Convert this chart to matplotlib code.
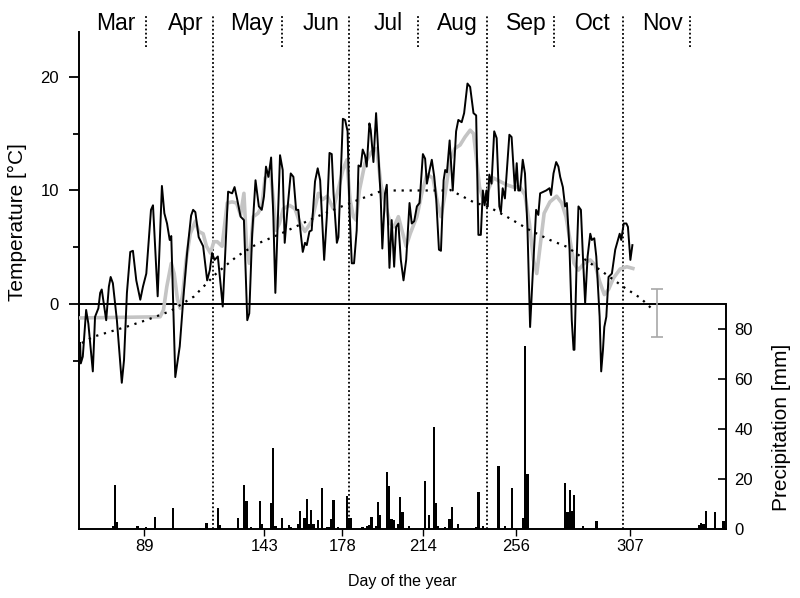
import numpy as np
import matplotlib.pyplot as plt

plt.rcParams['font.family'] = ['Liberation Sans', 'DejaVu Sans']

# months (day of year, 0 = 1 Jan)
month_names = ['Mar', 'Apr', 'May', 'Jun', 'Jul', 'Aug', 'Sep', 'Oct', 'Nov']
month_start = [59, 90, 120, 151, 181, 212, 243, 273, 304]
long_lines = [120, 181, 243, 304]
short_lines = [90, 151, 212, 273, 334]
day_ticks = [89, 143, 178, 214, 256, 307]

# daily air temperature
air_day = [60.3, 60.6, 61.5, 63.0, 64.0, 66.0, 67.0, 68.5, 69.3, 70.0, 72.0, 73.2, 74.0, 75.0,
           76.8, 79.0, 80.0, 81.3, 82.8, 84.0, 85.5, 87.3, 88.5, 90.0, 92.1, 93.0, 95.1, 97.0,
           98.1, 99.3, 100.5, 101.2, 103.0, 105.0, 106.8, 108.3, 110.1, 111.0, 112.0, 113.5,
           115.5, 117.3, 118.5, 119.5, 120.6, 122.1, 124.3, 126.7, 128.5, 129.6, 130.8, 132.3,
           133.8, 135.3, 136.2, 137.5, 139.0, 140.5, 141.8, 142.8, 143.7, 144.8, 146.0, 147.0,
           147.9, 150.0, 151.2, 152.1, 153.3, 154.8, 156.0, 157.2, 158.2, 159.3, 160.2, 161.2,
           162.0, 163.2, 164.2, 165.7, 166.9, 168.0, 169.8, 171.0, 172.2, 173.2, 174.0, 175.5,
           176.2, 178.2, 179.2, 180.3, 181.1, 182.2, 183.2, 184.4, 185.2, 186.2, 187.1, 188.1,
           188.9, 190.1, 190.7, 191.9, 193.1, 194.1, 195.2, 195.9, 197.1, 197.9, 199.1, 200.1,
           201.2, 202.1, 203.1, 204.2, 205.4, 206.6, 208.1, 209.1, 210.2, 211.4, 212.6, 214.1,
           215.1, 215.9, 217.1, 218.1, 219.2, 220.1, 221.3, 222.2, 223.4, 224.1, 224.9, 226.1,
           227.5, 229.0, 230.0, 231.5, 232.6, 234.1, 235.3, 236.8, 238.0, 239.0, 240.1, 241.0,
           241.8, 242.6, 243.2, 243.9, 244.9, 246.1, 247.2, 248.4, 249.1, 249.9, 250.9, 252.9,
           253.9, 255.4, 256.2, 256.9, 257.7, 258.9, 259.9, 261.0, 262.2, 263.4, 264.9, 265.9,
           266.7, 269.4, 270.9, 271.6, 272.7, 273.9, 274.9, 275.7, 276.9, 277.9, 278.7, 279.9,
           280.9, 281.7, 282.1, 283.2, 283.9, 285.0, 285.9, 286.9, 288.0, 289.2, 289.9, 291.0,
           291.9, 293.4, 294.1, 294.9, 295.5, 296.4, 297.4, 298.9, 300.4, 302.4, 303.1, 304.2,
           305.4, 306.1, 307.2, 308.1]
air_temp = [-3.4, -5.2, -4.6, -0.5, -1.7, -5.9, -1.1, -0.35, 1.0, 1.3, -1.4, 1.55, 2.4, 1.85,
            -1.4, -6.9, -4.9, 1.0, 4.6, 4.7, 2.1, 0.4, 1.55, 2.7, 8.3, 8.7, 0.7, 10.4,
            8.0, 7.1, 5.65, 6.0, -6.4, -3.7, 1.0, 4.5, 7.8, 8.3, 8.1, 5.9,
            5.1, 2.1, 3.0, 4.5, 3.9, 4.2, -0.2, 9.9, 9.75, 10.3, 9.2, 7.7,
            7.4, -1.4, -0.8, 6.2, 10.9, 8.6, 8.3, 9.5, 12.1, 11.2, 12.9, 7.7,
            1.0, 13.1, 11.8, 5.4, 8.3, 11.5, 11.2, 8.3, 8.3, 6.2, 4.6, 5.4,
            5.2, 6.4, 6.5, 10.8, 11.95, 10.9, 3.9, 7.7, 13.3, 13.2, 9.75, 5.4,
            5.9, 16.3, 16.2, 15.2, 8.6, 3.6, 3.6, 6.5, 12.2, 12.1, 13.6, 13.1,
            12.1, 15.9, 15.3, 12.5, 16.8, 13.3, 9.2, 4.9, 9.75, 10.5, 3.2, 7.4,
            3.3, 6.8, 7.1, 3.9, 2.1, 3.9, 8.9, 7.1, 7.3, 8.6, 8.9, 13.2,
            12.8, 10.6, 11.8, 12.7, 11.2, 9.2, 4.8, 4.7, 10.9, 11.8, 11.6, 14.4,
            10.0, 15.2, 16.2, 16.0, 16.8, 19.4, 19.1, 16.8, 16.6, 6.1, 6.1, 10.0,
            8.7, 10.0, 8.6, 11.4, 10.6, 15.2, 14.6, 8.6, 8.1, 10.2, 9.3, 14.9,
            14.7, 10.0, 12.4, 10.0, 10.0, 12.7, 11.5, 6.8, -2.0, 2.7, 8.3, 7.85,
            9.75, 10.0, 10.2, 9.6, 11.5, 12.5, 12.1, 11.2, 10.3, 8.6, 8.9, 4.8,
            -1.4, -4.0, -4.0, 4.6, 8.6, 8.3, 4.2, 0.1, 4.2, 6.2, 5.65, 5.8,
            4.2, -1.1, -5.9, -4.0, -2.0, -1.1, 2.4, 2.7, 4.8, 6.2, 5.65, 7.1,
            7.1, 6.8, 3.9, 5.2]

# second (smoother) temperature series, grey
soil_day = [60.3, 96.2, 97.7, 99.2, 101.2, 102.5, 104.0, 105.2, 106.4, 107.9, 109.7, 112.0,
            113.5, 115.5, 117.0, 118.8, 120.3, 121.8, 124.0, 126.3, 128.5, 130.5, 132.3, 133.8,
            135.0, 136.2, 138.0, 140.1, 141.8, 143.3, 145.8, 147.0, 148.2, 149.7, 151.5, 154.2,
            156.7, 159.0, 161.2, 164.2, 167.2, 169.1, 171.2, 173.9, 175.7, 178.2, 180.0, 181.4,
            182.9, 184.1, 185.6, 188.1, 191.1, 193.4, 195.2, 197.1, 199.4, 201.2, 203.1, 205.1,
            206.6, 208.4, 211.4, 213.6, 215.9, 218.6, 220.7, 222.2, 224.1, 226.3, 228.5, 230.8,
            233.0, 235.3, 236.8, 238.0, 239.5, 241.0, 242.7, 245.7, 248.7, 251.7, 254.7, 257.7,
            259.9, 261.9, 263.7, 265.2, 266.7, 268.5, 271.1, 274.1, 276.4, 278.3, 280.1, 281.9,
            283.9, 286.4, 289.2, 291.4, 293.4, 295.5, 297.4, 299.6, 302.6, 305.6, 308.3]
soil_temp = [-1.2, -1.1, -0.5, 1.55, 3.6, 2.7, 0.4, -0.35, 1.0, 3.9, 6.2, 7.3,
             6.4, 6.2, 5.1, 4.5, 5.5, 5.5, 5.1, 8.9, 9.0, 8.9, 7.85, 9.75,
             5.1, 3.6, 7.7, 8.0, 8.6, 11.1, 11.5, 9.2, 6.5, 7.1, 8.4, 8.7,
             8.4, 7.1, 6.4, 7.3, 9.75, 9.2, 9.5, 8.4, 9.75, 11.8, 12.7, 9.2,
             7.7, 7.4, 10.0, 12.4, 13.4, 13.7, 10.6, 8.9, 7.1, 6.8, 7.7, 6.2,
             5.1, 6.2, 7.7, 9.75, 11.4, 11.1, 8.9, 7.7, 9.75, 12.7, 13.7, 14.0,
             14.7, 15.3, 15.0, 13.0, 10.3, 9.3, 9.75, 11.1, 10.8, 10.5, 10.3, 10.3,
             9.6, 7.1, 3.9, 2.7, 5.1, 8.0, 9.0, 9.5, 8.9, 7.7, 5.65, 3.6,
             3.0, 3.6, 3.9, 3.45, 2.0, 0.85, 1.3, 2.3, 3.1, 3.3, 3.15]

# long-term mean temperature (dotted)
mean_day = [61.1, 66.3, 81.2, 90.2, 100.8, 111.3, 121.6, 130.6, 139.6, 151.4, 166.5, 181.4,
            193.4, 196.2, 223.1, 226.3, 236.6, 244.2, 251.7, 262.2, 271.1, 278.6, 293.7, 303.9,
            311.7, 317.4]
mean_temp = [-3.4, -2.85, -1.97, -1.38, -0.6, 0.67, 2.75, 4.2, 5.3, 6.3, 7.7, 8.9,
             9.8, 10.0, 10.0, 10.05, 9.0, 8.5, 7.7, 6.5, 5.65, 5.06, 3.0, 1.55,
             0.55, -0.5]

# error bar at the end of the season
err_day = 319
err_mean = -0.77
err_sd = 2.1

# daily precipitation
rain_day = [75, 76, 77, 86, 90, 94, 102, 114, 117, 122, 123, 131, 134, 135, 137, 141, 142,
            146, 147, 148, 151, 154, 155, 158, 159, 161, 162, 163, 164, 165, 167, 169, 171,
            172, 173, 174, 176, 180, 181, 182, 187, 189, 190, 191, 193, 194, 195, 198, 199,
            200, 201, 203, 204, 205, 208, 215, 217, 219, 220, 221, 224, 226, 227, 230, 238,
            239, 241, 248, 251, 254, 259, 260, 261, 278, 279, 280, 281, 282, 286, 292, 338,
            339, 340, 341, 345, 349]
rain_mm = [1.2, 17.6, 2.9, 1.2, 0.9, 4.9, 8.3, 0.5, 2.3, 8.3, 1.6, 4.3, 17.6, 11.3, 0.9, 11.3, 2.0,
           10.5, 32.5, 1.2, 4.3, 1.6, 0.9, 2.0, 7.3, 4.3, 11.9, 2.0, 7.7, 2.0, 3.6, 16.3, 0.6,
           0.9, 3.9, 11.6, 0.9, 13.2, 4.3, 4.3, 0.9, 1.2, 1.6, 4.7, 1.2, 10.9, 5.6, 22.9, 17.2,
           4.0, 3.6, 2.0, 12.7, 6.8, 1.0, 19.2, 5.6, 40.9, 10.5, 1.0, 0.8, 4.0, 8.9, 2.0, 0.8,
           14.9, 1.0, 25.2, 1.0, 16.3, 4.5, 73.2, 21.9, 18.3, 6.9, 15.6, 7.1, 13.6, 1.0, 3.3, 1.6,
           2.3, 2.0, 7.2, 6.8, 3.3]

fig = plt.figure(figsize=(8, 5.98), dpi=100)
ax = fig.add_axes([0.09875, 0.1154, 0.80875, 0.8311])
ax2 = ax.twinx()

t_lo, t_hi = -19.75, 23.93
p_hi = 198.8
ax.set_xlim(59.8, 350.1)
ax.set_ylim(t_lo, t_hi)
ax2.set_ylim(0, p_hi)

# month separators and names
trans = ax.get_xaxis_transform()
ax.vlines(long_lines, 0, 1.034, transform=trans, clip_on=False, colors='black',
          linestyles=(0, (1, 1.3)), lw=1.3, zorder=1)
ax.vlines(short_lines, 0.970, 1.034, transform=trans, clip_on=False, colors='black',
          linestyles=(0, (1, 1.3)), lw=1.3, zorder=1)
for name, start in zip(month_names, month_start):
    ax.text(start + 17.5, 1.017, name, transform=trans, ha='center', va='center', fontsize=16.5)

ax.axhline(0, color='black', lw=1.4, zorder=2)
ax.plot(soil_day, soil_temp, color='#c4c4c4', lw=2.6, zorder=3)
ax.plot(air_day, air_temp, color='black', lw=1.4, zorder=4)
ax.plot(mean_day, mean_temp, color='black', lw=1.6, linestyle=(0, (1, 2.6)), zorder=5)
ax.errorbar(err_day, err_mean, yerr=err_sd, color='#a8a8a8', capsize=4, lw=1.2,
            capthick=1.2, zorder=5)

ax2.bar(rain_day, rain_mm, width=1.0, color='black', linewidth=0)

# spines
for s in ['top', 'right']:
    ax.spines[s].set_visible(False)
for s in ['top', 'left', 'bottom']:
    ax2.spines[s].set_visible(False)
for sp in [ax.spines['left'], ax.spines['bottom'], ax2.spines['right']]:
    sp.set_linewidth(1.4)
zero_p = (0 - t_lo) / (t_hi - t_lo) * p_hi
ax2.spines['right'].set_bounds(0, zero_p)

ax.set_yticks([0, 10, 20])
ax.set_yticks([-5, 5, 15], minor=True)
ax.tick_params(axis='y', direction='out', length=7, width=1.3, pad=7.5, labelsize=12)
ax.tick_params(axis='y', which='minor', direction='out', length=4, width=1.3)
ax.set_xticks(day_ticks)
ax.tick_params(axis='x', direction='out', length=5, width=1, pad=2, labelsize=12)
ax2.set_yticks([0, 20, 40, 60, 80])
ax2.tick_params(axis='y', direction='in', length=6, width=1.2, pad=6, labelsize=12)

fig.text(0.022, 0.629, 'Temperature [°C]', rotation=90, ha='center', va='center', fontsize=15)
fig.text(0.977, 0.285, 'Precipitation [mm]', rotation=90, ha='center', va='center', fontsize=15)
fig.text(0.5025, 0.0268, 'Day of the year', ha='center', va='center', fontsize=11.5)

fig.savefig('out.png', dpi=100)
